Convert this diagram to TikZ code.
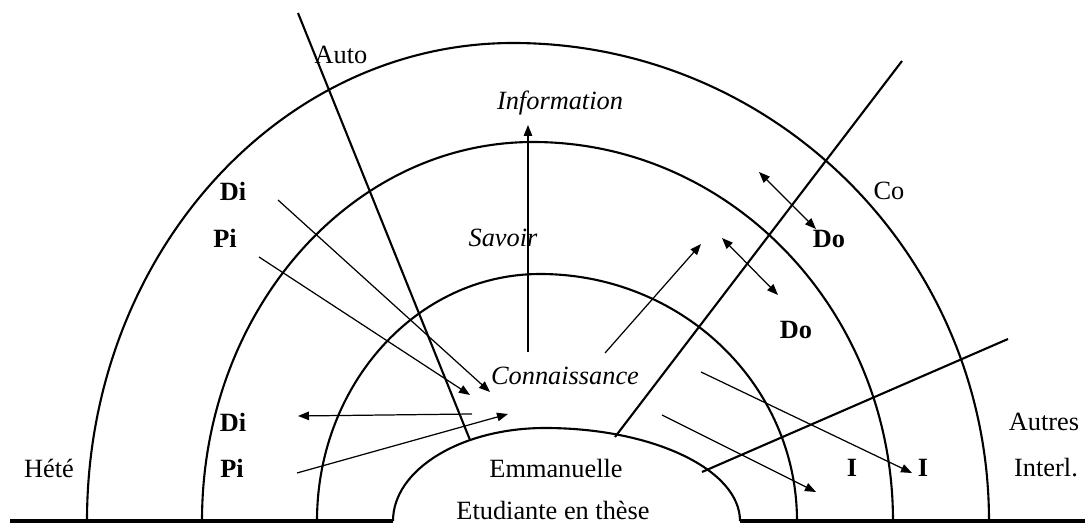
\documentclass[tikz,border=0pt]{standalone}
\usepackage{fontspec}
\setmainfont{Liberation Serif}
\usetikzlibrary{arrows.meta}

\begin{document}
\begin{tikzpicture}[
  x=0.02cm, y=0.02cm,
  ring/.style={line width=1.2pt},
  sol/.style={line width=2.3pt},
  axis/.style={line width=1.2pt},
  flow/.style={-{Triangle[length=0.22cm,width=0.17cm]},line width=0.7pt},
  swap/.style={{Triangle[length=0.22cm,width=0.17cm]}-{Triangle[length=0.22cm,width=0.17cm]},line width=0.7pt},
  lab/.style={font=\fontsize{15}{18}\selectfont,anchor=base,inner sep=0pt},
  ital/.style={lab,font=\fontsize{15}{18}\selectfont\itshape},
  bold/.style={lab,font=\fontsize{15}{18}\selectfont\bfseries}
]
\useasboundingbox (0,0) rectangle (1090,524);

% ground
\draw[sol] (10,3) -- (393,3);
\draw[sol] (740,3) -- (1085,3);

% rings
\draw[ring] (87,3) arc[start angle=180,end angle=90,x radius=426,y radius=478]
  arc[start angle=90,end angle=0,x radius=476,y radius=478];
\draw[ring] (202,3) arc[start angle=180,end angle=90,x radius=331,y radius=379]
  arc[start angle=90,end angle=0,x radius=360,y radius=379];
\draw[ring] (317,3) arc[start angle=180,end angle=90,x radius=223,y radius=247]
  arc[start angle=90,end angle=0,x radius=257,y radius=247];
\draw[ring] (393,3) arc[start angle=180,end angle=90,x radius=152,y radius=93]
  arc[start angle=90,end angle=0,x radius=195,y radius=93];

% sectors
\draw[axis] (298,511) -- (470,84);
\draw[axis] (902,463) -- (615,87);
\draw[axis] (1008,185) -- (702,52);

% exchanges
\draw[flow] (528,172) -- (528,399);
\draw[flow] (278,324) -- (490,132);
\draw[flow] (259,267) -- (470,129);
\draw[flow] (472,110) -- (298,108);
\draw[flow] (297,51) -- (508,110);
\draw[flow] (605,171) -- (701,280);
\draw[swap] (722,286) -- (778,229);
\draw[swap] (759,352) -- (816,295);
\draw[flow] (701,152) -- (912,51);
\draw[flow] (662,109) -- (816,32);

% labels
\node[lab] (auto) at (341,460) {Auto};
\node[lab] (co) at (889,324) {Co};
\node[lab] (hete) at (49,46) {Hété};
\node[lab] (autres) at (1044,93) {Autres};
\node[lab] (interl) at (1046,47) {Interl.};
\node[ital] (info) at (560,414) {Information};
\node[ital] (savoir) at (503,277) {Savoir};
\node[ital] (conn) at (565,139) {Connaissance};
\node[bold] (di1) at (233,323) {Di};
\node[bold] (pi1) at (225,276) {Pi};
\node[bold] (di2) at (233,92) {Di};
\node[bold] (pi2) at (232,46) {Pi};
\node[bold] (do1) at (829,276) {Do};
\node[bold] (do2) at (796,185) {Do};
\node[bold] (i1) at (852,47) {I};
\node[bold] (i2) at (923,47) {I};
\node[lab] (emma) at (556,46) {Emmanuelle};
\node[lab] (etud) at (553,4) {Etudiante en thèse};
\end{tikzpicture}
\end{document}
